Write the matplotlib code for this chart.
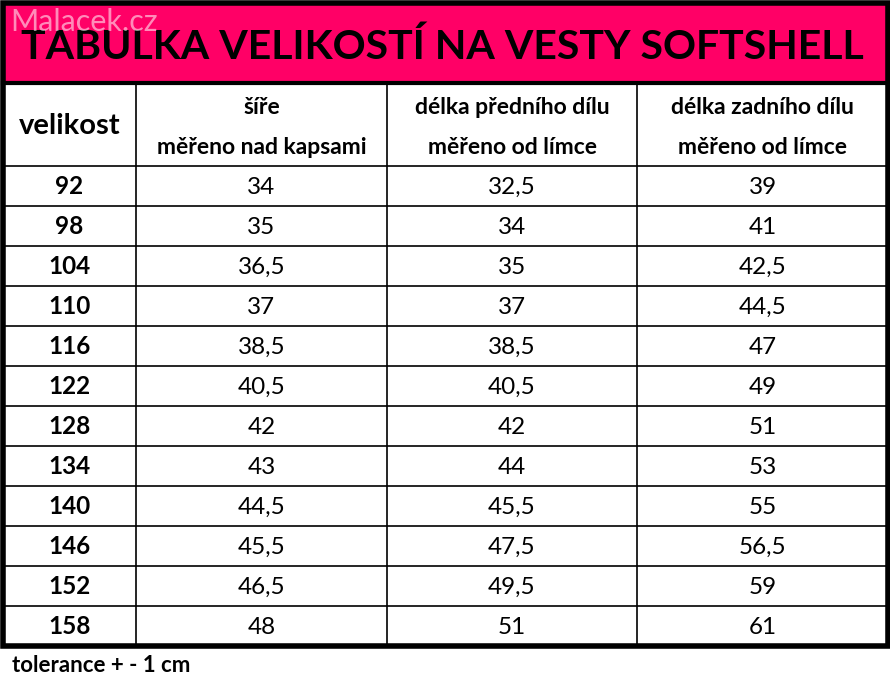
import matplotlib.pyplot as plt
from matplotlib.patches import Rectangle

title = "TABULKA VELIKOSTÍ NA VESTY SOFTSHELL"
headers = ["velikost", "šíře\nměřeno nad kapsami", "délka předního dílu\nměřeno od límce", "délka zadního dílu\nměřeno od límce"]
sizes = ["92", "98", "104", "110", "116", "122", "128", "134", "140", "146", "152", "158"]
sire = ["34", "35", "36,5", "37", "38,5", "40,5", "42", "43", "44,5", "45,5", "46,5", "48"]
predni = ["32,5", "34", "35", "37", "38,5", "40,5", "42", "44", "45,5", "47,5", "49,5", "51"]
zadni = ["39", "41", "42,5", "44,5", "47", "49", "51", "53", "55", "56,5", "59", "61"]
note = "tolerance + - 1 cm"

plt.rcParams['font.family'] = ['Lato', 'DejaVu Sans']
fig = plt.figure(figsize=(8.9, 6.86), dpi=100)
ax = fig.add_axes([0, 0, 1, 1])
ax.set_xlim(0, 890); ax.set_ylim(686, 0); ax.axis('off')

ax.add_patch(Rectangle((3, 3), 885, 80, facecolor='#FF0066', edgecolor='none'))
ax.text(442, 47, title, ha='center', va='center', fontsize=29.5, fontweight='bold', color='black')
ax.text(10, 22, "Malacek.cz", ha='left', va='center', fontsize=22, color='white', alpha=0.55)

cols = [3, 136, 387, 637, 888]
top, hb = 83, 166
rh = 40
bottom = hb + rh * len(sizes)
for x in cols[1:-1]:
    ax.plot([x, x], [top, bottom], color='black', lw=1.2)
ax.plot([3, 888], [hb, hb], color='black', lw=1.2)
for i in range(1, len(sizes)):
    y = hb + i * rh
    ax.plot([3, 888], [y, y], color='black', lw=1.2)
ax.plot([3, 888], [top, top], color='black', lw=3)
ax.add_patch(Rectangle((3, 3), 885, bottom - 3, facecolor='none', edgecolor='black', lw=4))

ax.text((cols[0] + cols[1]) / 2, (top + hb) / 2 + 2, headers[0], ha='center', va='center', fontsize=21, fontweight='bold')
for j in range(1, 4):
    l1, l2 = headers[j].split("\n")
    cx = (cols[j] + cols[j + 1]) / 2
    ax.text(cx, 108, l1, ha='center', va='center', fontsize=16.5, fontweight='bold')
    ax.text(cx, 147, l2, ha='center', va='center', fontsize=16.5, fontweight='bold')

for i in range(len(sizes)):
    cy = hb + i * rh + rh / 2 + 1
    ax.text((cols[0] + cols[1]) / 2, cy, sizes[i], ha='center', va='center', fontsize=17.5, fontweight='bold')
    for j, arr in enumerate([sire, predni, zadni], start=1):
        ax.text((cols[j] + cols[j + 1]) / 2, cy, arr[i], ha='center', va='center', fontsize=17.5)

ax.text(12, 665, note, ha='left', va='center', fontsize=16, fontweight='bold')
fig.savefig('out.png', dpi=100)
